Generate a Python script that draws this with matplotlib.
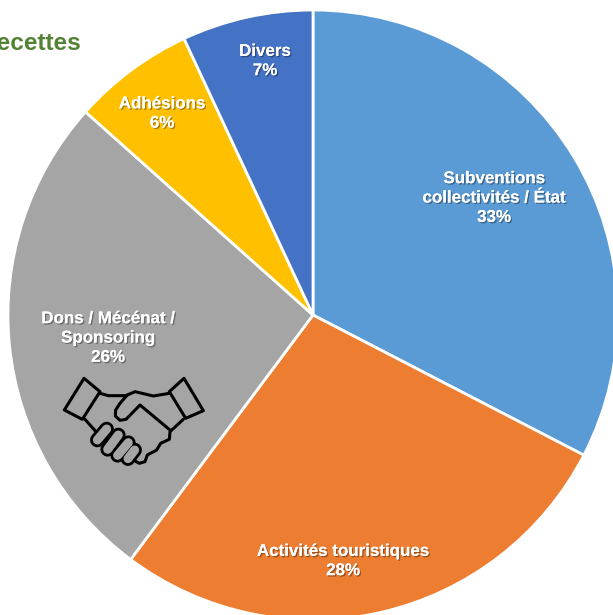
import matplotlib
matplotlib.use('Agg')
import matplotlib.pyplot as plt
import matplotlib.patheffects as pe
from matplotlib.patches import Polygon

plt.rcParams['font.family'] = ['Liberation Sans', 'DejaVu Sans']

#data
labels = ['Subventions\ncollectivités / État\n33%', 'Activités touristiques\n28%',
          'Dons / Mécénat /\nSponsoring\n26%', 'Adhésions\n6%', 'Divers\n7%']
values = [32.6, 27.6, 26.4, 6.45, 6.95]
colors = ['#5B9BD5', '#ED7D31', '#A5A5A5', '#FFC000', '#4472C4']
label_pos = [(494, 198), (343, 561), (108, 338), (162, 113.5), (265, 61)]

fig = plt.figure(figsize=(6.13, 6.15), dpi=100)
ax = fig.add_axes([0, 0, 1, 1])
ax.set_xlim(0, 613)
ax.set_ylim(615, 0)
ax.axis('off')

# y axis is flipped so the pie runs clockwise with counterclock=True
ax.pie(values, colors=colors, center=(313, 315), radius=305, startangle=-90,
       counterclock=True, frame=False,
       wedgeprops={'edgecolor': 'white', 'linewidth': 2})
ax.set_xlim(0, 613)
ax.set_ylim(615, 0)
ax.set_aspect('auto')

shadow = [pe.withSimplePatchShadow(offset=(1, -1), shadow_rgbFace='black', alpha=0.35), pe.Normal()]
for lab, pos in zip(labels, label_pos):
    ax.text(pos[0], pos[1], lab, color='white', fontsize=12.2, fontweight='bold',
            ha='center', va='center', linespacing=1.36, path_effects=shadow)

ax.text(81, 43, 'Recettes', color='#548235', fontsize=17.6, fontweight='bold',
        ha='right', va='center')


# handshake icon, points read in the 3x zoom of the picture
def z(pts):
    return [(40 + a / 3, 350 + b / 3) for a, b in pts]


icon = dict(color='black', lw=2.2, solid_capstyle='round', solid_joinstyle='round', zorder=5)

for finger in [[(200, 237), (172, 270)], [(235, 255), (203, 298)],
               [(265, 278), (233, 316)], [(284, 300), (264, 326)]]:
    xs, ys = zip(*z(finger))
    ax.plot(xs, ys, color='black', lw=10.5, solid_capstyle='round', zorder=4)
    ax.plot(xs, ys, color='#A5A5A5', lw=6.5, solid_capstyle='round', zorder=4.5)

lines = [
    [(180, 130), (205, 137), (255, 137)],
    [(135, 208), (168, 245)],
    [(262, 135), (240, 160), (227, 180), (226, 198), (240, 211), (258, 208), (300, 165), (390, 240)],
    [(262, 135), (285, 125), (340, 138), (388, 130)],
    [(430, 208), (390, 245), (388, 268), (362, 280), (350, 300), (322, 315), (315, 335), (298, 340), (285, 333)],
]
for line in lines:
    xs, ys = zip(*z(line))
    ax.plot(xs, ys, **icon)

for cuff in [[(132, 85), (180, 125), (127, 208), (73, 180)],
             [(432, 85), (388, 125), (437, 205), (490, 182)]]:
    ax.add_patch(Polygon(z(cuff), closed=True, fill=False, edgecolor='black', lw=2.2,
                         joinstyle='round', zorder=5))

fig.savefig('out.png', dpi=100)
